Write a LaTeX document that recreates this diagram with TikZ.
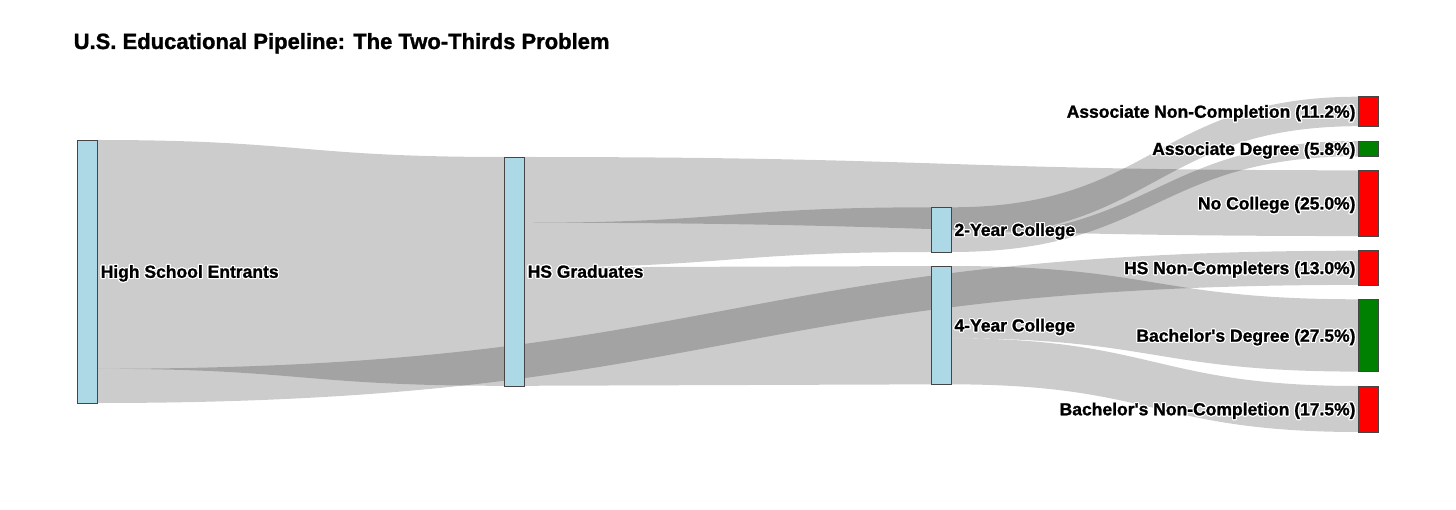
\documentclass[tikz,border=0pt]{standalone}
\usepackage{fontspec}
\setmainfont{Liberation Sans}
\newfontfamily\heavyfont{Liberation Sans Bold}[FakeBold=1.2]
\usepackage{contour}
\contourlength{1.1pt}
\contournumber{20}
\usetikzlibrary{positioning,calc}
\definecolor{barblue}{HTML}{ADD8E6}
\definecolor{barred}{HTML}{FF0000}
\definecolor{bargreen}{HTML}{008000}
\tikzset{bar/.style={draw=black!73,line width=0.5pt,minimum width=20pt,inner sep=0pt,outer sep=0pt,anchor=north west},
         link/.style={fill=black,fill opacity=0.2},
         lbl/.style={inner sep=0pt,font=\fontsize{17.5}{20}\heavyfont}
}
% link between two bars: source, from, to, target, from, to (offsets below the bar tops)
\newcommand{\sankeylink}[6]{%
  \path ($(#1.north east)+(0,#2)$) coordinate (s1)
        ($(#1.north east)+(0,#3)$) coordinate (s2)
        ($(#4.north west)+(0,#5)$) coordinate (t1)
        ($(#4.north west)+(0,#6)$) coordinate (t2)
        ($(s1)!0.5!(t1)$) coordinate (m);
  \fill[link] (s1) .. controls (m |- s1) and (m |- t1) .. (t1) -- (t2)
        .. controls (m |- t2) and (m |- s2) .. (s2) -- cycle;
}

\begin{document}
\begin{tikzpicture}[x=1pt,y=1pt,yscale=-1,xscale=1]
\useasboundingbox (0,0) rectangle (1456,510);

% Title
\node [anchor=base west,inner sep=0pt,font=\fontsize{22}{26}\heavyfont] (title) at (73.5,49) {U.S. Educational Pipeline: The Two-Thirds Problem};

% Bars: anchors only, drawn after the links
\path (77.5,140) node [bar,minimum height=263pt] (ent) {};
\path (504.5,157) node [bar,minimum height=228.8pt] (grad) {};
\path (931.3,207.3) node [bar,minimum height=44.7pt] (twoyr) {};
\path (931.3,266) node [bar,minimum height=118.35pt] (fouryr) {};
\path (1358.7,96.7) node [bar,minimum height=29.5pt] (assocnc) {};
\path (1358.7,141) node [bar,minimum height=15.25pt] (assocdeg) {};
\path (1358.7,170.3) node [bar,minimum height=65.75pt] (nocoll) {};
\path (1358.7,250.7) node [bar,minimum height=34.2pt] (hsnc) {};
\path (1358.7,299.3) node [bar,minimum height=72.3pt] (bachdeg) {};
\path (1358.7,386) node [bar,minimum height=46pt] (bachnc) {};

% Links
\sankeylink{ent}{0}{228.8}{grad}{0}{228.8}
\sankeylink{ent}{228.8}{263}{hsnc}{0}{34.2}
\sankeylink{grad}{0}{65.75}{nocoll}{0}{65.75}
\sankeylink{grad}{65.75}{110.45}{twoyr}{0}{44.7}
\sankeylink{grad}{110.45}{228.8}{fouryr}{0}{118.35}
\sankeylink{twoyr}{0}{29.5}{assocnc}{0}{29.5}
\sankeylink{twoyr}{29.5}{44.7}{assocdeg}{0}{15.25}
\sankeylink{fouryr}{0}{72.3}{bachdeg}{0}{72.3}
\sankeylink{fouryr}{72.3}{118.35}{bachnc}{0}{46}

% Bars
\node [bar,fill=barblue,minimum height=263pt] at (ent.north west) {};
\node [bar,fill=barblue,minimum height=228.8pt] at (grad.north west) {};
\node [bar,fill=barblue,minimum height=44.7pt] at (twoyr.north west) {};
\node [bar,fill=barblue,minimum height=118.35pt] at (fouryr.north west) {};
\node [bar,fill=barred,minimum height=29.5pt] at (assocnc.north west) {};
\node [bar,fill=bargreen,minimum height=15.25pt] at (assocdeg.north west) {};
\node [bar,fill=barred,minimum height=65.75pt] at (nocoll.north west) {};
\node [bar,fill=barred,minimum height=34.2pt] at (hsnc.north west) {};
\node [bar,fill=bargreen,minimum height=72.3pt] at (bachdeg.north west) {};
\node [bar,fill=barred,minimum height=46pt] at (bachnc.north west) {};

% Text Node
\node [lbl,anchor=base west] (entlbl) at ($(ent.east)+(3,6.3)$) {\contour{white}{High School Entrants}};
\node [lbl,anchor=base west] (gradlbl) at ($(grad.east)+(3,6.3)$) {\contour{white}{HS Graduates}};
\node [lbl,anchor=base west] (twoyrlbl) at ($(twoyr.east)+(3,6.3)$) {\contour{white}{2-Year College}};
\node [lbl,anchor=base west] (fouryrlbl) at ($(fouryr.east)+(3,6.3)$) {\contour{white}{4-Year College}};
\node [lbl,anchor=base east] (assocnclbl) at ($(assocnc.west)+(-3,6.3)$) {\contour{white}{Associate Non-Completion (11.2\%)}};
\node [lbl,anchor=base east] (assocdeglbl) at ($(assocdeg.west)+(-3,6.3)$) {\contour{white}{Associate Degree (5.8\%)}};
\node [lbl,anchor=base east] (nocolllbl) at ($(nocoll.west)+(-3,6.3)$) {\contour{white}{No College (25.0\%)}};
\node [lbl,anchor=base east] (hsnclbl) at ($(hsnc.west)+(-3,6.3)$) {\contour{white}{HS Non-Completers (13.0\%)}};
\node [lbl,anchor=base east] (bachdeglbl) at ($(bachdeg.west)+(-3,6.3)$) {\contour{white}{Bachelor\textquotesingle s Degree (27.5\%)}};
\node [lbl,anchor=base east] (bachnclbl) at ($(bachnc.west)+(-3,6.3)$) {\contour{white}{Bachelor\textquotesingle s Non-Completion (17.5\%)}};

\end{tikzpicture}
\end{document}
